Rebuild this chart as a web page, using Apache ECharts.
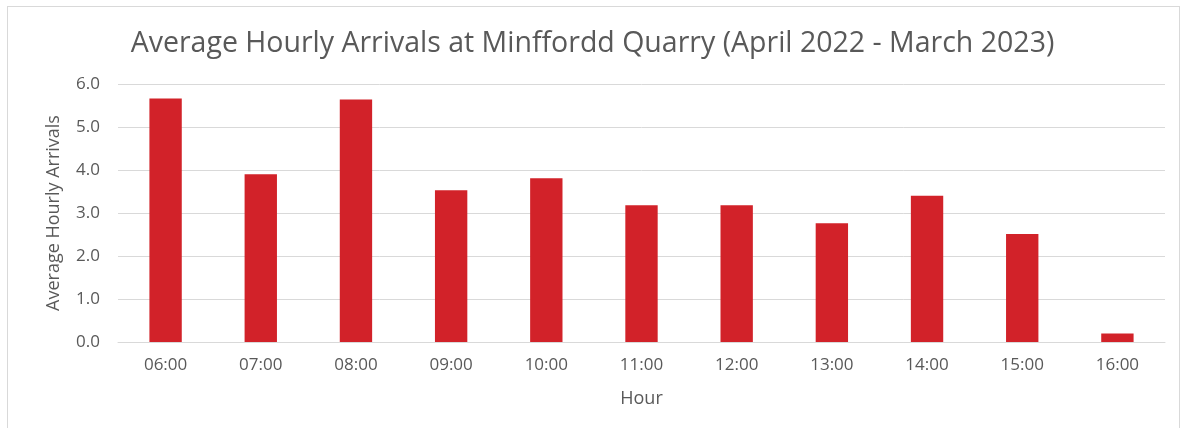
<!DOCTYPE html>
<html>
<head>
<meta charset="utf-8">
<script src="https://cdn.jsdelivr.net/npm/echarts@6/dist/echarts.min.js"></script>
<style>
  html, body { margin: 0; padding: 0; background: #fff; overflow: hidden; }
  #frame { position: absolute; left: 7px; top: 6px; width: 1171px; height: 440px; border: 1px solid #d9d9d9; }
  #main { position: absolute; left: 0; top: 0; width: 1185px; height: 428px; }
</style>
</head>
<body>
<div id="frame"></div>
<div id="main"></div>
<script>
// hours of the day
const hours = ['06:00', '07:00', '08:00', '09:00', '10:00', '11:00', '12:00', '13:00', '14:00', '15:00', '16:00'];
// average arrivals per hour
const arrivals = [5.66, 3.90, 5.64, 3.53, 3.81, 3.18, 3.18, 2.76, 3.40, 2.51, 0.20];
const yTicks = [0, 1, 2, 3, 4, 5, 6];

const txt = '#595959';
const font = '"Open Sans", "Noto Sans", sans-serif';

const option = {
  animation: false,
  title: {
    text: 'Average Hourly Arrivals at Minffordd Quarry (April 2022 - March 2023)',
    left: 'center',
    top: 24,
    textStyle: { fontFamily: font, fontSize: 28.5, fontWeight: 'normal', color: txt }
  },
  grid: { left: 118, right: 20, top: 84, bottom: 86 },
  xAxis: {
    type: 'category',
    data: hours,
    name: 'Hour',
    nameLocation: 'middle',
    nameGap: 48,
    nameTextStyle: { fontFamily: font, fontSize: 18, color: txt },
    axisLine: { lineStyle: { color: '#d9d9d9', width: 1 } },
    axisTick: { show: false },
    axisLabel: { fontFamily: font, fontSize: 17, color: txt, margin: 15 }
  },
  yAxis: {
    type: 'value',
    min: yTicks[0],
    max: yTicks[yTicks.length - 1],
    interval: 1,
    name: 'Average Hourly Arrivals',
    nameLocation: 'middle',
    nameGap: 55,
    nameTextStyle: { fontFamily: font, fontSize: 18, color: txt },
    axisLine: { show: false },
    axisTick: { show: false },
    axisLabel: {
      fontFamily: font, fontSize: 17, color: txt, margin: 18,
      formatter: v => v.toFixed(1)
    },
    splitLine: { lineStyle: { color: '#d9d9d9', width: 1 } }
  },
  series: [{
    type: 'bar',
    data: arrivals,
    barWidth: '34%',
    itemStyle: { color: '#d22229' }
  }]
};

const chart = echarts.init(document.getElementById('main'));
chart.setOption(option);
</script>
</body>
</html>
